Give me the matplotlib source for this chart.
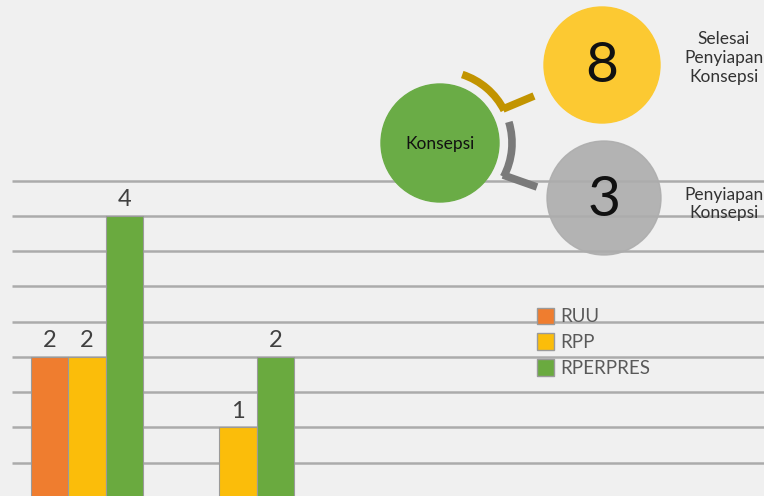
import numpy as np
import matplotlib.pyplot as plt
from matplotlib.patches import Circle, Arc, Patch

plt.rcParams['font.family'] = ['Lato', 'DejaVu Sans']

# bar data
groups = [0, 1]
series = ['RUU', 'RPP', 'RPERPRES']
values = {
    'RUU': [2, 0],
    'RPP': [2, 1],
    'RPERPRES': [4, 2],
}
colors = {'RUU': '#ef7d2f', 'RPP': '#fbbd0a', 'RPERPRES': '#6aaa3f'}

# status bubbles
done_label = 'Selesai\nPenyiapan\nKonsepsi'
done_count = 8
prep_label = 'Penyiapan\nKonsepsi'
prep_count = 3
center_label = 'Konsepsi'

W, H = 764, 496
fig = plt.figure(figsize=(W / 100, H / 100), dpi=100)
fig.patch.set_facecolor('#f0f0f0')

ax = fig.add_axes([0, 0, 1, 1])
ax.set_facecolor('#f0f0f0')
ax.set_xlim(-0.576, 4.483)
ax.set_ylim(0.028, 7.064)
ax.axis('off')

# gridlines every half unit
for g in np.arange(0.5, 5.0, 0.5):
    ax.hlines(g, -0.497, 4.483, color='#ababab', lw=1.8, zorder=1)

bw = 0.248
offsets = [-bw, 0, bw]
x = np.array(groups)
for s, off in zip(series, offsets):
    vals = np.array(values[s])
    bars = ax.bar(x + off, vals, bw, color=colors[s], edgecolor='#9a9a9a',
                  lw=0.8, zorder=2)
    for b, v in zip(bars, vals):
        if v > 0:
            ax.text(b.get_x() + b.get_width() / 2, v + 0.08, str(v),
                    ha='center', va='bottom', fontsize=17, color='#404040',
                    zorder=3)

# legend
handles = [Patch(facecolor=colors[s], edgecolor='#9a9a9a', label=s) for s in series]
ax.legend(handles=handles, loc='upper left', bbox_to_anchor=(529.5 / W, 1 - 300 / H),
          frameon=False, fontsize=13.5, labelcolor='#595959',
          handlelength=0.92, handleheight=0.95, handletextpad=0.3,
          labelspacing=0.45, borderaxespad=0)

# bubble overlay in pixel coordinates
ov = fig.add_axes([0, 0, 1, 1])
ov.set_xlim(0, W)
ov.set_ylim(H, 0)
ov.axis('off')
ov.patch.set_alpha(0)

cx, cy = 440, 143
ov.add_patch(Circle((cx, cy), 59, color='#6aac46', zorder=3))
ov.text(cx, cy + 1, center_label, ha='center', va='center', fontsize=12.5, color='#111111')

# connector arcs (y axis is flipped, so angles go clockwise)
ov.add_patch(Arc((cx, cy), 144, 144, theta1=-72, theta2=-27, color='#c29400', lw=5.5))
ov.plot([503, 534], [109, 96], color='#c29400', lw=5.5, solid_capstyle='butt')
ov.add_patch(Arc((cx, cy), 144, 144, theta1=-17, theta2=28, color='#7a7a7a', lw=5.5))
ov.plot([503, 537], [175, 187], color='#7a7a7a', lw=5.5, solid_capstyle='butt')

ov.add_patch(Circle((602, 65), 58, color='#fcc932', zorder=3))
ov.text(602, 67, str(done_count), ha='center', va='center', fontsize=41, color='#111111', zorder=4)
ov.add_patch(Circle((604, 198), 57, color='#adadad', alpha=0.9, zorder=3))
ov.text(604, 200, str(prep_count), ha='center', va='center', fontsize=41, color='#111111', zorder=4)

ov.text(724, 58, done_label, ha='center', va='center', fontsize=12.5,
        color='#333333', linespacing=1.2)
ov.text(724, 204, prep_label, ha='center', va='center', fontsize=12.5,
        color='#333333', linespacing=1.2)

fig.savefig('out.png', dpi=100, facecolor=fig.get_facecolor())
